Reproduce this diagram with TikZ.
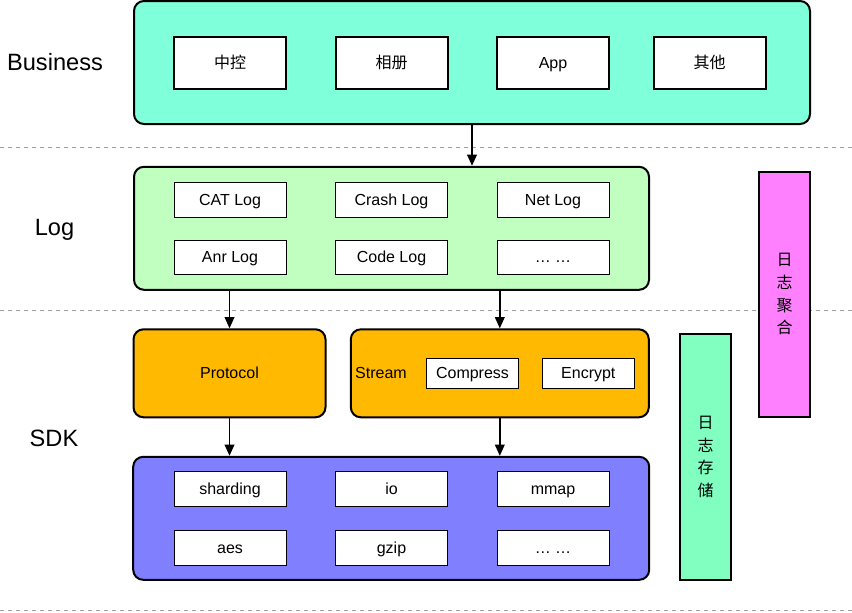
\documentclass[tikz,border=0pt]{standalone}
\usepackage{fontspec}
\setmainfont{Liberation Sans}
\newfontfamily\cjk{Noto Sans CJK SC}
\usetikzlibrary{arrows.meta}
\definecolor{bizfill}{HTML}{80FFDB}
\definecolor{logfill}{HTML}{C0FFC0}
\definecolor{orfill}{HTML}{FFB900}
\definecolor{sdkfill}{HTML}{8080FF}
\definecolor{aggfill}{HTML}{FF80FF}
\definecolor{storefill}{HTML}{80FFC0}
\definecolor{dashgray}{HTML}{A0A0A0}
\tikzset{
  sz/.style 2 args={minimum width=#1*0.75pt, minimum height=#2*0.75pt, inner sep=0pt},
  txt/.style={font=\fontsize{12}{14}\selectfont, text height=10.6pt, text depth=2.6pt},
  outer/.style={draw=black, line width=1.5pt, rounded corners=7.5pt},
  inbox/.style={draw=black, line width=0.75pt, fill=white, txt},
  inboxb/.style={draw=black, line width=1.5pt, fill=white, txt},
  vbox/.style={draw=black, line width=1.5pt, align=center, font=\cjk\fontsize{12}{17}\selectfont},
  layer/.style={font=\fontsize{17.7}{20}\selectfont},
  arr/.style={line width=1.1pt, -{Triangle[width=7.2pt,length=8.3pt]}},
  sep/.style={draw=dashgray, line width=0.75pt, dash pattern=on 3pt off 3pt},
}
\begin{document}
\begin{tikzpicture}[x=0.75pt,y=-0.75pt]
\useasboundingbox (0,0) rectangle (852,612);
% separators
\coordinate (d1l) at (0,147); \coordinate (d1r) at (852,147);
\coordinate (d2l) at (0,310); \coordinate (d2r) at (852,310);
\coordinate (d3l) at (0,610); \coordinate (d3r) at (852,610);
\draw[sep] (d1l) -- (d1r);
\draw[sep] (d2l) -- (d2r);
\draw[sep] (d3l) -- (d3r);
% layer labels
\node[layer] (tbiz) at (55,62.5) {Business};
\node[layer] (tlog) at (54.5,230) {Log};
\node[layer] (tsdk) at (54,438) {SDK};
% Business
\node[outer, fill=bizfill, sz={676}{123}] (biz) at (472,62.5) {};
\node[inboxb, sz={112}{52}] (b1) at (230,63) {\cjk 中控};
\node[inboxb, sz={112}{52}] (b2) at (391.5,63) {\cjk 相册};
\node[inboxb, sz={112}{52}] (b3) at (553,63) {App};
\node[inboxb, sz={112}{52}] (b4) at (709.5,63) {\cjk 其他};
% Log
\node[outer, fill=logfill, sz={515}{123}] (log) at (391.5,228.3) {};
\node[inbox, sz={112}{34.7}] (l1) at (230,200) {CAT Log};
\node[inbox, sz={112}{34.7}] (l2) at (391.5,200) {Crash Log};
\node[inbox, sz={112}{34.7}] (l3) at (553,200) {Net Log};
\node[inbox, sz={112}{34.7}] (l4) at (230,257.5) {Anr Log};
\node[inbox, sz={112}{34.7}] (l5) at (391.5,257.5) {Code Log};
\node[inbox, sz={112}{34.7}] (l6) at (553,257.5) {… …};
% SDK upper
\node[outer, fill=orfill, sz={192}{88}, txt] (proto) at (229.5,373.3) {Protocol};
\node[outer, fill=orfill, sz={298}{88}] (stream) at (499.8,373.3) {};
\node[txt, inner sep=0pt] (tstream) at (381,373.3) {Stream};
\node[inbox, sz={92}{30}] (comp) at (472.5,373.3) {Compress};
\node[inbox, sz={92}{30}] (enc) at (588.3,373.3) {Encrypt};
% SDK lower
\node[outer, fill=sdkfill, sz={516}{123}] (sdk) at (391.2,518.3) {};
\node[inbox, sz={112}{34.7}] (s1) at (230,489) {sharding};
\node[inbox, sz={112}{34.7}] (s2) at (391.5,489) {io};
\node[inbox, sz={112}{34.7}] (s3) at (553,489) {mmap};
\node[inbox, sz={112}{34.7}] (s4) at (230,548) {aes};
\node[inbox, sz={112}{34.7}] (s5) at (391.5,548) {gzip};
\node[inbox, sz={112}{34.7}] (s6) at (553,548) {… …};
% right vertical boxes
\node[vbox, fill=aggfill, sz={51}{245}] (agg) at (784.5,294.3) {日\\志\\聚\\合};
\node[vbox, fill=storefill, sz={51}{246}] (store) at (705.5,457) {日\\志\\存\\储};
% arrows
\draw[arr] (biz.south) -- (biz.south |- log.north);
\draw[arr] (proto.north |- log.south) -- (proto.north);
\draw[arr] (stream.north |- log.south) -- (stream.north);
\draw[arr] (proto.south) -- (proto.south |- sdk.north);
\draw[arr] (stream.south) -- (stream.south |- sdk.north);
\end{tikzpicture}
\end{document}
